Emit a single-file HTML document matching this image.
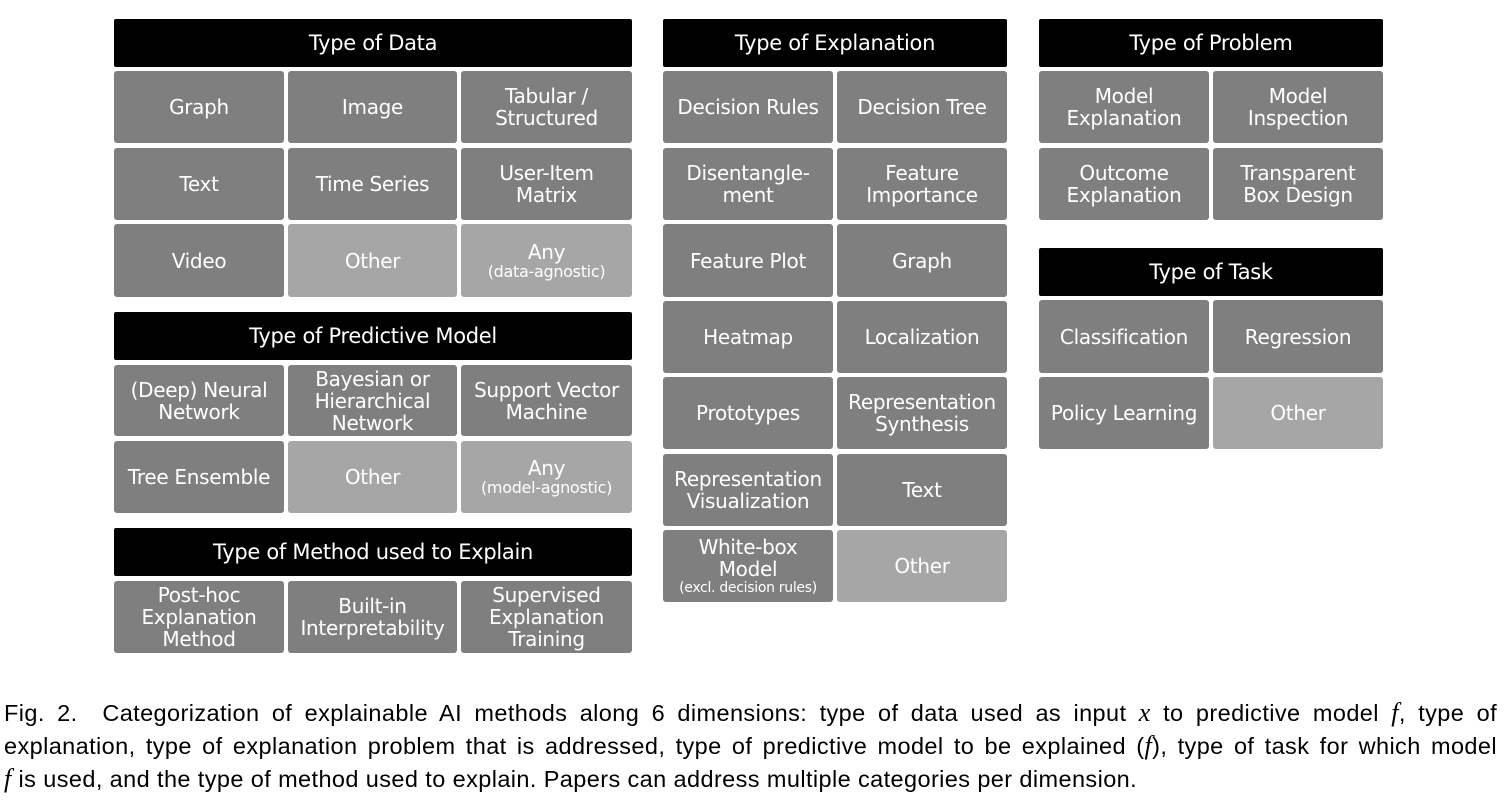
<!DOCTYPE html>
<html><head><meta charset="utf-8"><style>
body{margin:0;width:1510px;height:808px;background:#fff;position:relative;overflow:hidden;font-family:"DejaVu Sans","Liberation Sans",sans-serif}
.b{position:absolute;display:flex;align-items:center;justify-content:center;text-align:center;color:#fff;border-radius:3px;line-height:22px;font-size:20px;letter-spacing:-0.3px}
.b span{display:block}
.h{background:#000;border-radius:2px;font-size:21px}
.d{background:#7f7f7f}
.l{background:#a6a6a6}
small{font-size:16px;line-height:18px;display:block}
.cap{position:absolute;left:4px;font-family:"Liberation Sans",sans-serif;font-size:23.5px;line-height:33px;color:#000;white-space:nowrap;letter-spacing:0.4px}
.cap i{font-family:"Liberation Serif",serif;font-size:26px}
.j{width:1493px;text-align:justify;text-align-last:justify}
</style></head><body>
<div class="b h" style="left:114px;top:19px;width:518px;height:48px">Type of Data</div>
<div class="b d" style="left:114px;top:71px;width:170px;height:72px">Graph</div>
<div class="b d" style="left:288px;top:71px;width:169px;height:72px">Image</div>
<div class="b d" style="left:461px;top:71px;width:171px;height:72px"><span>Tabular /<br>Structured</span></div>
<div class="b d" style="left:114px;top:148px;width:170px;height:72px">Text</div>
<div class="b d" style="left:288px;top:148px;width:169px;height:72px">Time Series</div>
<div class="b d" style="left:461px;top:148px;width:171px;height:72px"><span>User-Item<br>Matrix</span></div>
<div class="b d" style="left:114px;top:224px;width:170px;height:73px">Video</div>
<div class="b l" style="left:288px;top:224px;width:169px;height:73px">Other</div>
<div class="b l" style="left:461px;top:224px;width:171px;height:73px"><span>Any<small>(data-agnostic)</small></span></div>

<div class="b h" style="left:114px;top:312px;width:518px;height:48px">Type of Predictive Model</div>
<div class="b d" style="left:114px;top:365px;width:170px;height:71px"><span>(Deep) Neural<br>Network</span></div>
<div class="b d" style="left:288px;top:365px;width:169px;height:71px"><span>Bayesian or<br>Hierarchical<br>Network</span></div>
<div class="b d" style="left:461px;top:365px;width:171px;height:71px"><span>Support Vector<br>Machine</span></div>
<div class="b d" style="left:114px;top:441px;width:170px;height:72px">Tree Ensemble</div>
<div class="b l" style="left:288px;top:441px;width:169px;height:72px">Other</div>
<div class="b l" style="left:461px;top:441px;width:171px;height:72px"><span>Any<small>(model-agnostic)</small></span></div>

<div class="b h" style="left:114px;top:528px;width:518px;height:48px">Type of Method used to Explain</div>
<div class="b d" style="left:114px;top:581px;width:170px;height:72px"><span>Post-hoc<br>Explanation<br>Method</span></div>
<div class="b d" style="left:288px;top:581px;width:169px;height:72px"><span>Built-in<br>Interpretability</span></div>
<div class="b d" style="left:461px;top:581px;width:171px;height:72px"><span>Supervised<br>Explanation<br>Training</span></div>

<div class="b h" style="left:663px;top:19px;width:344px;height:48px">Type of Explanation</div>
<div class="b d" style="left:663px;top:71px;width:170px;height:72px">Decision Rules</div>
<div class="b d" style="left:837px;top:71px;width:170px;height:72px">Decision Tree</div>
<div class="b d" style="left:663px;top:148px;width:170px;height:72px"><span>Disentangle-<br>ment</span></div>
<div class="b d" style="left:837px;top:148px;width:170px;height:72px"><span>Feature<br>Importance</span></div>
<div class="b d" style="left:663px;top:224px;width:170px;height:73px">Feature Plot</div>
<div class="b d" style="left:837px;top:224px;width:170px;height:73px">Graph</div>
<div class="b d" style="left:663px;top:301px;width:170px;height:72px">Heatmap</div>
<div class="b d" style="left:837px;top:301px;width:170px;height:72px">Localization</div>
<div class="b d" style="left:663px;top:377px;width:170px;height:72px">Prototypes</div>
<div class="b d" style="left:837px;top:377px;width:170px;height:72px"><span>Representation<br>Synthesis</span></div>
<div class="b d" style="left:663px;top:454px;width:170px;height:72px"><span>Representation<br>Visualization</span></div>
<div class="b d" style="left:837px;top:454px;width:170px;height:72px">Text</div>
<div class="b d" style="left:663px;top:530px;width:170px;height:72px"><span>White-box<br>Model<small style="font-size:14px;line-height:16px">(excl. decision rules)</small></span></div>
<div class="b l" style="left:837px;top:530px;width:170px;height:72px">Other</div>

<div class="b h" style="left:1039px;top:19px;width:344px;height:48px">Type of Problem</div>
<div class="b d" style="left:1039px;top:71px;width:170px;height:72px"><span>Model<br>Explanation</span></div>
<div class="b d" style="left:1213px;top:71px;width:170px;height:72px"><span>Model<br>Inspection</span></div>
<div class="b d" style="left:1039px;top:148px;width:170px;height:72px"><span>Outcome<br>Explanation</span></div>
<div class="b d" style="left:1213px;top:148px;width:170px;height:72px"><span>Transparent<br>Box Design</span></div>

<div class="b h" style="left:1039px;top:248px;width:344px;height:48px">Type of Task</div>
<div class="b d" style="left:1039px;top:300px;width:170px;height:73px">Classification</div>
<div class="b d" style="left:1213px;top:300px;width:170px;height:73px">Regression</div>
<div class="b d" style="left:1039px;top:377px;width:170px;height:72px">Policy Learning</div>
<div class="b l" style="left:1213px;top:377px;width:170px;height:72px">Other</div>

<div class="cap j" style="top:696px">Fig. 2.&nbsp; Categorization of explainable AI methods along 6 dimensions: type of data used as input <i>x</i> to predictive model <i>f</i>, type of</div>
<div class="cap j" style="top:729px">explanation, type of explanation problem that is addressed, type of predictive model to be explained (<i>f</i>), type of task for which model</div>
<div class="cap" style="top:762px"><i>f</i> is used, and the type of method used to explain. Papers can address multiple categories per dimension.</div>
</body></html>
